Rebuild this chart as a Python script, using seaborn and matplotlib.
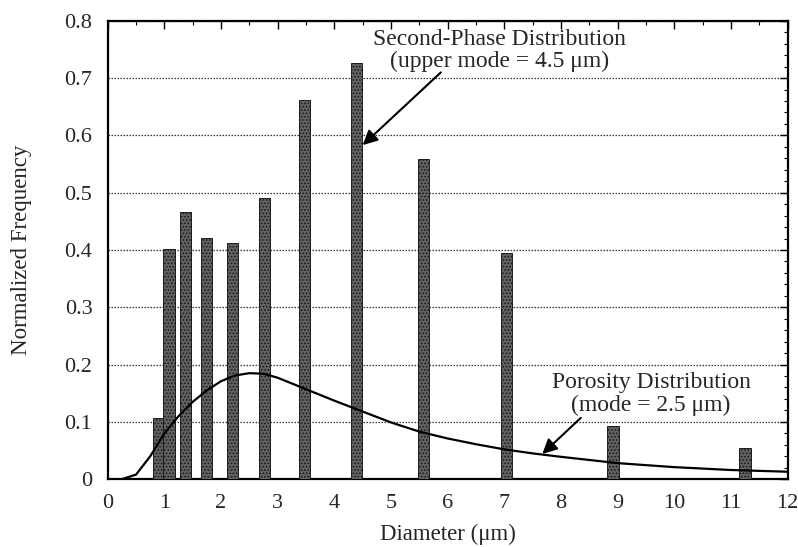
import numpy as np
import pandas as pd
import matplotlib
matplotlib.use("Agg")
import matplotlib.pyplot as plt
from matplotlib.ticker import MultipleLocator
import seaborn as sns

# Second-phase particle size distribution (bars)
bar_diam = [0.90, 1.08, 1.37, 1.74, 2.20, 2.77, 3.47, 4.39, 5.57, 7.04, 8.92, 11.25]
bar_freq = [0.106, 0.401, 0.466, 0.421, 0.413, 0.491, 0.662, 0.726, 0.558, 0.394, 0.093, 0.055]

# Porosity distribution (curve)
por_diam = [0.25, 0.5, 0.75, 1.0, 1.25, 1.5, 1.75, 2.0, 2.25, 2.5, 2.75, 3.0, 3.5, 4.0,
            4.5, 5.0, 5.5, 6.0, 6.5, 7.0, 7.5, 8.0, 9.0, 10.0, 11.0, 12.0]
por_freq = [0.0, 0.008, 0.040, 0.080, 0.110, 0.135, 0.155, 0.171, 0.181, 0.185, 0.184,
            0.177, 0.157, 0.137, 0.118, 0.099, 0.083, 0.071, 0.061, 0.052, 0.045, 0.039,
            0.028, 0.021, 0.016, 0.013]

x_ticks = list(range(0, 13))
y_ticks = [0, 0.1, 0.2, 0.3, 0.4, 0.5, 0.6, 0.7, 0.8]
y_tick_labels = ["0", "0.1", "0.2", "0.3", "0.4", "0.5", "0.6", "0.7", "0.8"]

sns.set_style("white")
plt.rcParams["font.family"] = ["Liberation Serif", "DejaVu Serif"]
plt.rcParams["hatch.linewidth"] = 0.8

fig = plt.figure(figsize=(7.98, 5.47), dpi=100)
ax = fig.add_axes([0.135, 0.124, 0.852, 0.838])

bars_df = pd.DataFrame({"diam": bar_diam, "freq": bar_freq})
min_gap = np.min(np.diff(np.sort(bar_diam)))
sns.barplot(data=bars_df, x="diam", y="freq", native_scale=True, errorbar=None,
            width=0.2 / min_gap, color="#5e5e5e", ax=ax, zorder=3)
for p in ax.patches:
    p.set_facecolor("#626262")
    p.set_edgecolor("#1c1c1c")
    p.set_linewidth(0.7)
    p.set_hatch(".....")

por_df = pd.DataFrame({"diam": por_diam, "freq": por_freq})
sns.lineplot(data=por_df, x="diam", y="freq", color="black", linewidth=1.6, ax=ax, zorder=4)

ax.set_xlim(0, 12)
ax.set_ylim(0, 0.8)
ax.set_xticks(x_ticks)
ax.set_xticklabels([str(t) for t in x_ticks])
ax.set_yticks(y_ticks)
ax.set_yticklabels(y_tick_labels)
ax.xaxis.set_minor_locator(MultipleLocator(0.5))
ax.yaxis.set_minor_locator(MultipleLocator(0.02))
ax.tick_params(which="both", direction="in", top=True, right=True, labelsize=16, color="black")
ax.tick_params(which="major", length=6, width=1.0, pad=11)
ax.tick_params(which="minor", length=3, width=0.8)
ax.yaxis.grid(True, which="major", linestyle=(0, (1.2, 1.2)), color="#333333", linewidth=0.9)
ax.xaxis.grid(False)
ax.set_axisbelow(True)
for s in ax.spines.values():
    s.set_color("black")
    s.set_linewidth(1.6)

ax.set_xlabel("Diameter (\u03bcm)", fontsize=16.5)
ax.set_ylabel("Normalized Frequency", fontsize=16.5)
ax.xaxis.set_label_coords(0.5, -0.097)
ax.yaxis.set_label_coords(-0.112, 0.5)

ax.text(6.91, 0.748, "Second-Phase Distribution\n(upper mode = 4.5 \u03bcm)",
        ha="center", va="center", fontsize=17, linespacing=1.1, zorder=5)
ax.annotate("", xy=(4.50, 0.583), xytext=(5.88, 0.710),
            arrowprops=dict(arrowstyle="-|>", color="black", lw=1.5,
                            mutation_scale=22, shrinkA=0, shrinkB=0))
ax.text(9.59, 0.149, "Porosity Distribution\n(mode = 2.5 \u03bcm)",
        ha="center", va="center", fontsize=17, linespacing=1.1, zorder=5)
ax.annotate("", xy=(7.67, 0.044), xytext=(8.35, 0.107),
            arrowprops=dict(arrowstyle="-|>", color="black", lw=1.5,
                            mutation_scale=22, shrinkA=0, shrinkB=0))

fig.savefig("out.png", dpi=100)
